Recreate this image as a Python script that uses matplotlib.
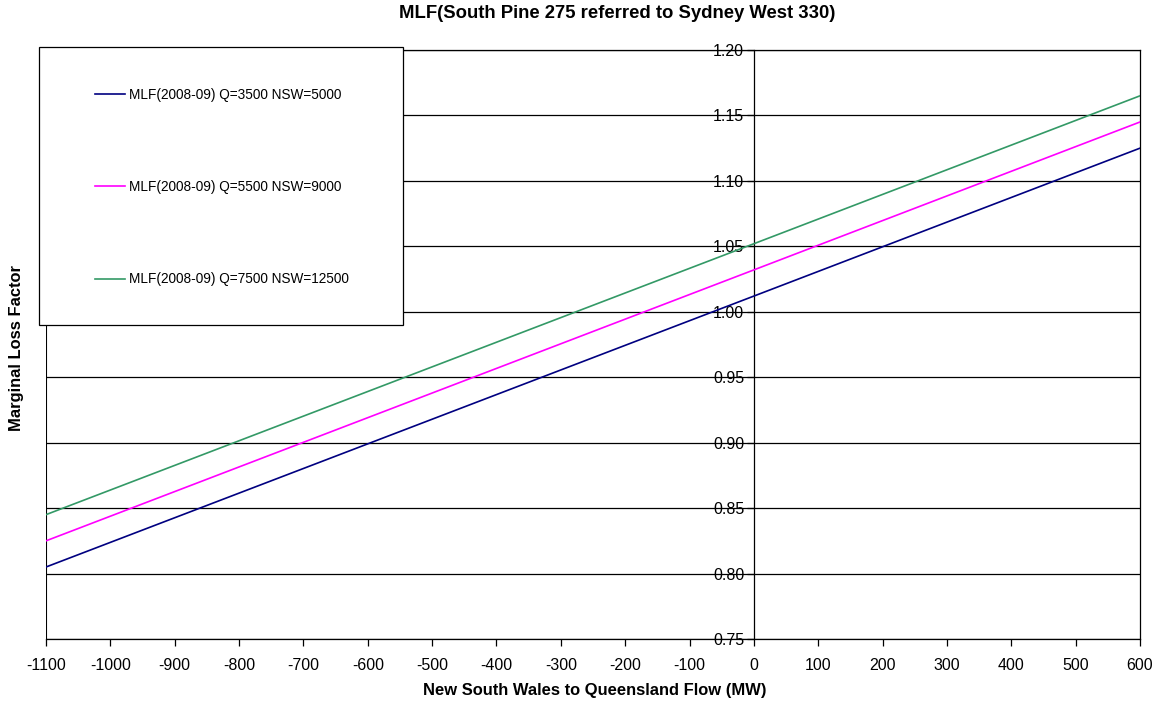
import matplotlib
matplotlib.use("Agg")
import matplotlib.pyplot as plt
from matplotlib.patches import Rectangle

plt.rcParams['font.family'] = ['Liberation Sans', 'DejaVu Sans']
plt.rcParams['axes.unicode_minus'] = False

flow = [-1100, 0, 600]
mlf_q3500 = [0.805, 1.012, 1.125]
mlf_q5500 = [0.825, 1.032, 1.145]
mlf_q7500 = [0.845, 1.052, 1.165]
labels = ["MLF(2008-09) Q=3500 NSW=5000",
          "MLF(2008-09) Q=5500 NSW=9000",
          "MLF(2008-09) Q=7500 NSW=12500"]
colors = ["#000080", "#FF00FF", "#339966"]
xticks = list(range(-1100, 601, 100))
yticks = [0.75, 0.80, 0.85, 0.90, 0.95, 1.00, 1.05, 1.10, 1.15, 1.20]

W, H = 1161, 704
fig = plt.figure(figsize=(W/100, H/100), dpi=100)
ax = fig.add_axes([46/W, 1-639/H, (1140-46)/W, (639-50)/H])

lines = []
for ys, c, lab in zip([mlf_q3500, mlf_q5500, mlf_q7500], colors, labels):
    l, = ax.plot(flow, ys, color=c, lw=1.2, label=lab, zorder=3)
    lines.append(l)

ax.set_xlim(-1100, 600)
ax.set_ylim(0.75, 1.20)
ax.set_xticks(xticks)
ax.set_yticks(yticks)
ax.set_yticklabels([f"{v:.2f}" for v in yticks])
ax.yaxis.grid(True, color='black', lw=0.9)
ax.set_axisbelow(True)
ax.spines['left'].set_position(('data', 0))
for s in ['left', 'right', 'top', 'bottom']:
    ax.spines[s].set_linewidth(0.9)
ax.axvline(-1100, color='black', lw=1.5, zorder=2)
ax.tick_params(axis='both', direction='out', length=5, width=0.9, labelsize=11.5, colors='black')
ax.tick_params(axis='y', pad=2)
ax.tick_params(axis='x', pad=9)

fig.text(617/W, 1-13/H, "MLF(South Pine 275 referred to Sydney West 330)",
         ha='center', va='center', fontsize=13.3, fontweight='bold')
fig.text(595/W, 1-690/H, "New South Wales to Queensland Flow (MW)",
         ha='center', va='center', fontsize=11.9, fontweight='bold')
fig.text(17/W, 1-348/H, "Marginal Loss Factor", rotation=90,
         ha='center', va='center', fontsize=11.9, fontweight='bold')

fig.add_artist(Rectangle((39/W, 1-325/H), (403-39)/W, (325-47)/H,
                         transform=fig.transFigure, facecolor='white',
                         edgecolor='black', lw=0.9, zorder=4))
leg = fig.legend(handles=lines, loc='upper left',
                 bbox_to_anchor=(88/W, 1-81/H), frameon=False,
                 fontsize=9.8, labelspacing=5.75, handlelength=2.2,
                 handletextpad=0.3, borderpad=0)
leg.set_zorder(5)

fig.savefig("out.png", dpi=100)
